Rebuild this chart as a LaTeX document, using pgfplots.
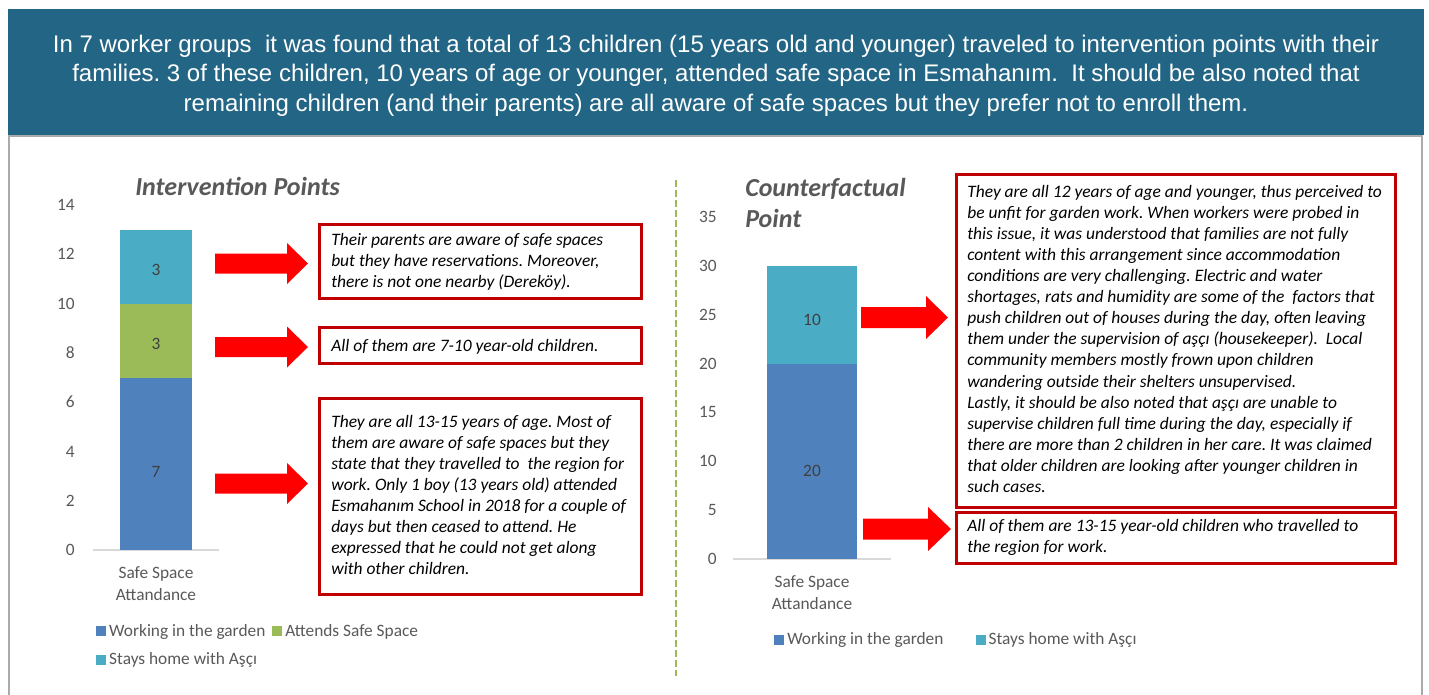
\documentclass[border=0pt]{standalone}
\usepackage{pgfplots}
\pgfplotsset{compat=1.18}
\usepackage{fontspec}
\setmainfont{Carlito}
\newfontfamily\arialfont{Liberation Sans}
\frenchspacing

\definecolor{banner}{RGB}{35,101,132}
\definecolor{cblue}{RGB}{79,129,189}
\definecolor{cgreen}{RGB}{155,187,89}
\definecolor{cteal}{RGB}{75,172,198}
\definecolor{txtgray}{RGB}{89,89,89}
\definecolor{lblgray}{RGB}{64,64,64}
\definecolor{boxred}{RGB}{192,0,0}
\definecolor{panelgray}{RGB}{170,170,170}
\definecolor{axisgray}{RGB}{217,217,217}

\newcommand{\boxfont}{\fontsize{13.1}{15.8}\selectfont\itshape}
\newcommand{\titlefont}{\fontsize{19.5}{23.2}\selectfont\bfseries\itshape}

% red block arrow: x0, head start, tip, centre y, head half height, shaft half height
\newcommand{\blockarrow}[6]{%
  \fill[red] (#1,{#4-#6}) -- (#2,{#4-#6}) -- (#2,{#4-#5}) -- (#3,#4)
    -- (#2,{#4+#5}) -- (#2,{#4+#6}) -- (#1,{#4+#6}) -- cycle;}

\pgfplotsset{
  sqleg/.style={legend image code/.code={\fill[##1,draw=none] (0pt,-3.75pt) rectangle (7.5pt,3.75pt);}},
  chartstyle/.style={
    ybar stacked, scale only axis, anchor=south west,
    xmin=-0.5, xmax=0.5, ymin=0,
    xtick=data, xticklabels={{Safe Space\\Attandance}},
    axis x line=bottom, axis y line=left,
    x axis line style={-, draw=axisgray, line width=1pt},
    y axis line style={draw=none},
    major tick length=0pt,
    /pgf/number format/assume math mode=true,
    tick label style={font=\fontsize{13}{16.5}\selectfont, text=txtgray},
    xticklabel style={align=center, anchor=north, inner sep=0pt, yshift=-12pt},
    yticklabel style={anchor=east, inner sep=0pt},
    visualization depends on={rawy \as \rawy},
    nodes near coords={\pgfmathprintnumber{\rawy}},
    every node near coord/.append style={anchor=center, inner sep=0pt,
      font=\fontsize{13}{15}\selectfont, text=lblgray,
      yshift=-0.5*\rawy*\pgfplotsunitylength},
    sqleg,
    legend cell align=left,
    legend style={draw=none, fill=none, inner sep=0pt,
      font=\fontsize{13}{15}\selectfont, text=txtgray,
      nodes={inner xsep=2.2pt, inner ysep=3.8pt}},
  }
}

\begin{document}
\begin{tikzpicture}
\begin{scope}[x=0.75pt, y=-0.75pt]
  \useasboundingbox (0,0) rectangle (1429,694);
  \fill[white] (0,0) rectangle (1429,694);
  % panel and banner
  \draw[panelgray, line width=2pt] (9,136) rectangle (1422,720);
  \fill[banner] (8,9) rectangle (1424,135);
  \begin{scope}[every node/.style={text=white, inner sep=0pt, anchor=base,
      font=\arialfont\fontsize{18}{22}\selectfont}]
    \node at (716,52) {In 7 worker groups~ it was found that a total of 13 children (15 years old and younger) traveled to intervention points with their};
    \node at (716,81.5) {families. 3 of these children, 10 years of age or younger, attended safe space in Esmahanım.~ It should be also noted that};
    \node at (716,111) {remaining children (and their parents) are all aware of safe spaces but they prefer not to enroll them.};
  \end{scope}
  % divider
  \draw[cgreen, line width=2pt, dash pattern=on 5.5pt off 2pt] (676,180) -- (676,676);
  % titles
  \node[anchor=base west, inner sep=0pt, font=\titlefont, text=txtgray] at (135,195) {Intervention Points};
  \node[anchor=base west, inner sep=0pt, font=\titlefont, text=txtgray] at (745,196) {Counterfactual};
  \node[anchor=base west, inner sep=0pt, font=\titlefont, text=txtgray] at (745,227) {Point};
  % arrows
  \blockarrow{215}{287}{308}{263.5}{20.5}{10}
  \blockarrow{215}{287}{308}{347}{20.5}{10}
  \blockarrow{215}{287}{308}{483.5}{20.5}{10}
  \blockarrow{861}{926}{948}{317.5}{21.5}{10.5}
  \blockarrow{863}{928}{951}{529}{22}{10.5}
  % boxes
  \draw[boxred, line width=2.25pt] (319,224) rectangle (641,298);
  \draw[boxred, line width=2.25pt] (319,327) rectangle (641,363);
  \draw[boxred, line width=2.25pt] (319,398) rectangle (641,594);
  \draw[boxred, line width=2.25pt] (956,174) rectangle (1395,507);
  \draw[boxred, line width=2.25pt] (956,512) rectangle (1395,563);
  \begin{scope}[every node/.style={anchor=north west, inner sep=0pt, align=left, font=\boxfont}]
    \node at (331,233) {Their parents are aware of safe spaces\\but they have reservations. Moreover,\\there is not one nearby (Dereköy).};
    \node at (331,339) {All of them are 7-10 year-old children.};
    \node at (331,415) {They are all 13-15 years of age. Most of\\them are aware of safe spaces but they\\state that they travelled to~ the region for\\work. Only 1 boy (13 years old) attended\\Esmahanım School in 2018 for a couple of\\days but then ceased to attend. He\\expressed that he could not get along\\with other children.};
    \node at (967,185) {They are all 12 years of age and younger, thus perceived to\\be unfit for garden work. When workers were probed in\\this issue, it was understood that families are not fully\\content with this arrangement since accommodation\\conditions are very challenging. Electric and water\\shortages, rats and humidity are some of the~ factors that\\push children out of houses during the day, often leaving\\them under the supervision of aşçı (housekeeper).~ Local\\community members mostly frown upon children\\wandering outside their shelters unsupervised.\\Lastly, it should be also noted that aşçı are unable to\\supervise children full time during the day, especially if\\there are more than 2 children in her care. It was claimed\\that older children are looking after younger children in\\such cases.};
    \node at (967,519) {All of them are 13-15 year-old children who travelled to\\the region for work.};
  \end{scope}
\end{scope}

% left chart
\begin{axis}[chartstyle,
  at={(93*0.75pt,-550*0.75pt)}, width=94.5pt, height=258.75pt,
  ymax=14, ytick={0,2,...,14}, bar width=0.571,
  yticklabel style={xshift=-13.5pt},
  legend columns=2,
  legend style={at={(axis description cs:0.024,-0.2)}, anchor=north west,
    row sep=3pt,
    /tikz/every even column/.append style={column sep=3pt}},
]
\addplot[fill=cblue, draw=none, sqleg] coordinates {(0,7)};
\addplot[fill=cgreen, draw=none, sqleg] coordinates {(0,3)};
\addplot[fill=cteal, draw=none, sqleg] coordinates {(0,3)};
\legend{Working in the garden, Attends Safe Space, Stays home with Aşçı}
\end{axis}

% right chart
\begin{axis}[chartstyle,
  at={(733*0.75pt,-559*0.75pt)}, width=118.5pt, height=256.5pt,
  ymax=35, ytick={0,5,...,35}, bar width=0.57,
  yticklabel style={xshift=-12pt},
  legend columns=2,
  legend style={at={(axis description cs:0.26,-0.2)}, anchor=north west,
    /tikz/every even column/.append style={column sep=22pt}},
]
\addplot[fill=cblue, draw=none, sqleg] coordinates {(0,20)};
\addplot[fill=cteal, draw=none, sqleg] coordinates {(0,10)};
\legend{Working in the garden, Stays home with Aşçı}
\end{axis}
\end{tikzpicture}
\end{document}
